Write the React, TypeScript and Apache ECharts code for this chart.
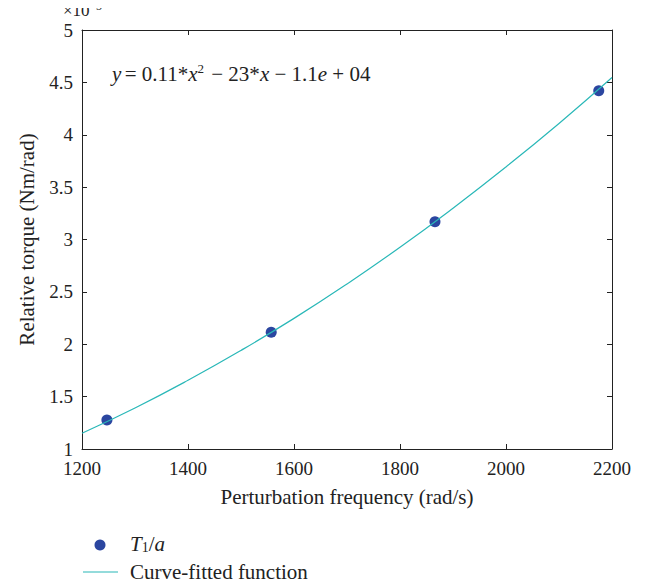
import React, { useEffect, useRef } from "react";
import * as echarts from "echarts";

// Measured points (torque in units of 1e5 Nm/rad)
const pointFreq = [1247, 1557, 1866, 2175];
const pointTorque = [1.276, 2.114, 3.17, 4.42];

// Curve-fitted function (units of 1e5)
const curveFreq = [1200, 1300, 1400, 1500, 1600, 1700, 1800, 1900, 2000, 2100, 2200];
const curveTorque = [1.151, 1.392, 1.656, 1.941, 2.247, 2.576, 2.926, 3.299, 3.693, 4.108, 4.546];

const FONT = "Liberation Serif";
const INK = "#222";

export default function App() {
  const ref = useRef<HTMLDivElement>(null);
  useEffect(() => {
    if (!ref.current) return;
    const chart = echarts.init(ref.current, null, { renderer: "svg" });
    const axisLine = { show: true, lineStyle: { color: INK, width: 1 } };
    const tick = { show: true, inside: true, length: 5, lineStyle: { color: INK } };
    chart.setOption({
      animation: false,
      backgroundColor: "#fff",
      grid: { left: 82, right: 45, top: 30, bottom: 139 },
      xAxis: [
        {
          type: "value",
          min: 1200,
          max: 2200,
          interval: 200,
          axisLine,
          axisTick: tick,
          splitLine: { show: false },
          axisLabel: { fontFamily: FONT, fontSize: 19, color: INK, margin: 10, formatter: (v: number) => String(v) },
          name: "Perturbation frequency (rad/s)",
          nameLocation: "middle",
          nameGap: 37,
          nameTextStyle: { fontFamily: FONT, fontSize: 21, color: INK },
        },
        {
          type: "value",
          position: "top",
          min: 1200,
          max: 2200,
          interval: 200,
          axisLine,
          axisTick: tick,
          axisLabel: { show: false },
          splitLine: { show: false },
        },
      ],
      yAxis: [
        {
          type: "value",
          min: 1,
          max: 5,
          interval: 0.5,
          axisLine,
          axisTick: tick,
          splitLine: { show: false },
          axisLabel: { fontFamily: FONT, fontSize: 19, color: INK, margin: 9 },
          name: "Relative torque (Nm/rad)",
          nameLocation: "middle",
          nameGap: 45,
          nameRotate: 90,
          nameTextStyle: { fontFamily: FONT, fontSize: 21, color: INK },
        },
        {
          type: "value",
          position: "right",
          min: 1,
          max: 5,
          interval: 0.5,
          axisLine,
          axisTick: tick,
          axisLabel: { show: false },
          splitLine: { show: false },
        },
      ],
      series: [
        {
          name: "Curve-fitted function",
          type: "line",
          data: curveFreq.map((f, i) => [f, curveTorque[i]]),
          smooth: true,
          showSymbol: false,
          lineStyle: { color: "#2ab8b8", width: 1.2 },
          z: 3,
        },
        {
          name: "T1/a",
          type: "scatter",
          data: pointFreq.map((f, i) => [f, pointTorque[i]]),
          symbolSize: 11,
          itemStyle: { color: "#2b46a0", opacity: 1 },
          z: 2,
        },
      ],
      graphic: [
        {
          type: "text",
          left: 63,
          top: 2,
          style: { text: "×10", fontFamily: FONT, fontSize: 17, fill: INK },
        },
        {
          type: "text",
          left: 96,
          top: 0,
          style: { text: "5", fontFamily: FONT, fontSize: 12, fill: INK },
        },
        {
          type: "text",
          left: 112,
          top: 62,
          style: {
            text: "{i|y} {n|= 0.11*}{i|x}{s|2}{n| − 23*}{i|x}{n| − 1.1}{i|e}{n| + 04}",
            rich: {
              i: { fontFamily: FONT, fontStyle: "italic", fontSize: 21, fill: INK },
              n: { fontFamily: FONT, fontSize: 21, fill: INK },
              s: { fontFamily: FONT, fontSize: 13, fill: INK, padding: [0, 2, 11, 0] },
            },
          },
        },
        { type: "circle", shape: { cx: 100, cy: 545, r: 5.5 }, style: { fill: "#2b46a0" } },
        {
          type: "text",
          left: 130,
          top: 533,
          style: {
            text: "{i|T}{b|1}{n|/}{i|a}",
            rich: {
              i: { fontFamily: FONT, fontStyle: "italic", fontSize: 21, fill: INK },
              n: { fontFamily: FONT, fontSize: 21, fill: INK },
              b: { fontFamily: FONT, fontSize: 14, fill: INK, padding: [7, 0, 0, 0] },
            },
          },
        },
        { type: "line", shape: { x1: 83, y1: 572, x2: 118, y2: 572 }, style: { stroke: "#2ab8b8", lineWidth: 1.2 } },
        {
          type: "text",
          left: 130,
          top: 561,
          style: { text: "Curve-fitted function", fontFamily: FONT, fontSize: 21, fill: INK },
        },
      ],
    });
    return () => chart.dispose();
  }, []);
  return <div ref={ref} style={{ width: 657, height: 588, margin: -8 }} />;
}
